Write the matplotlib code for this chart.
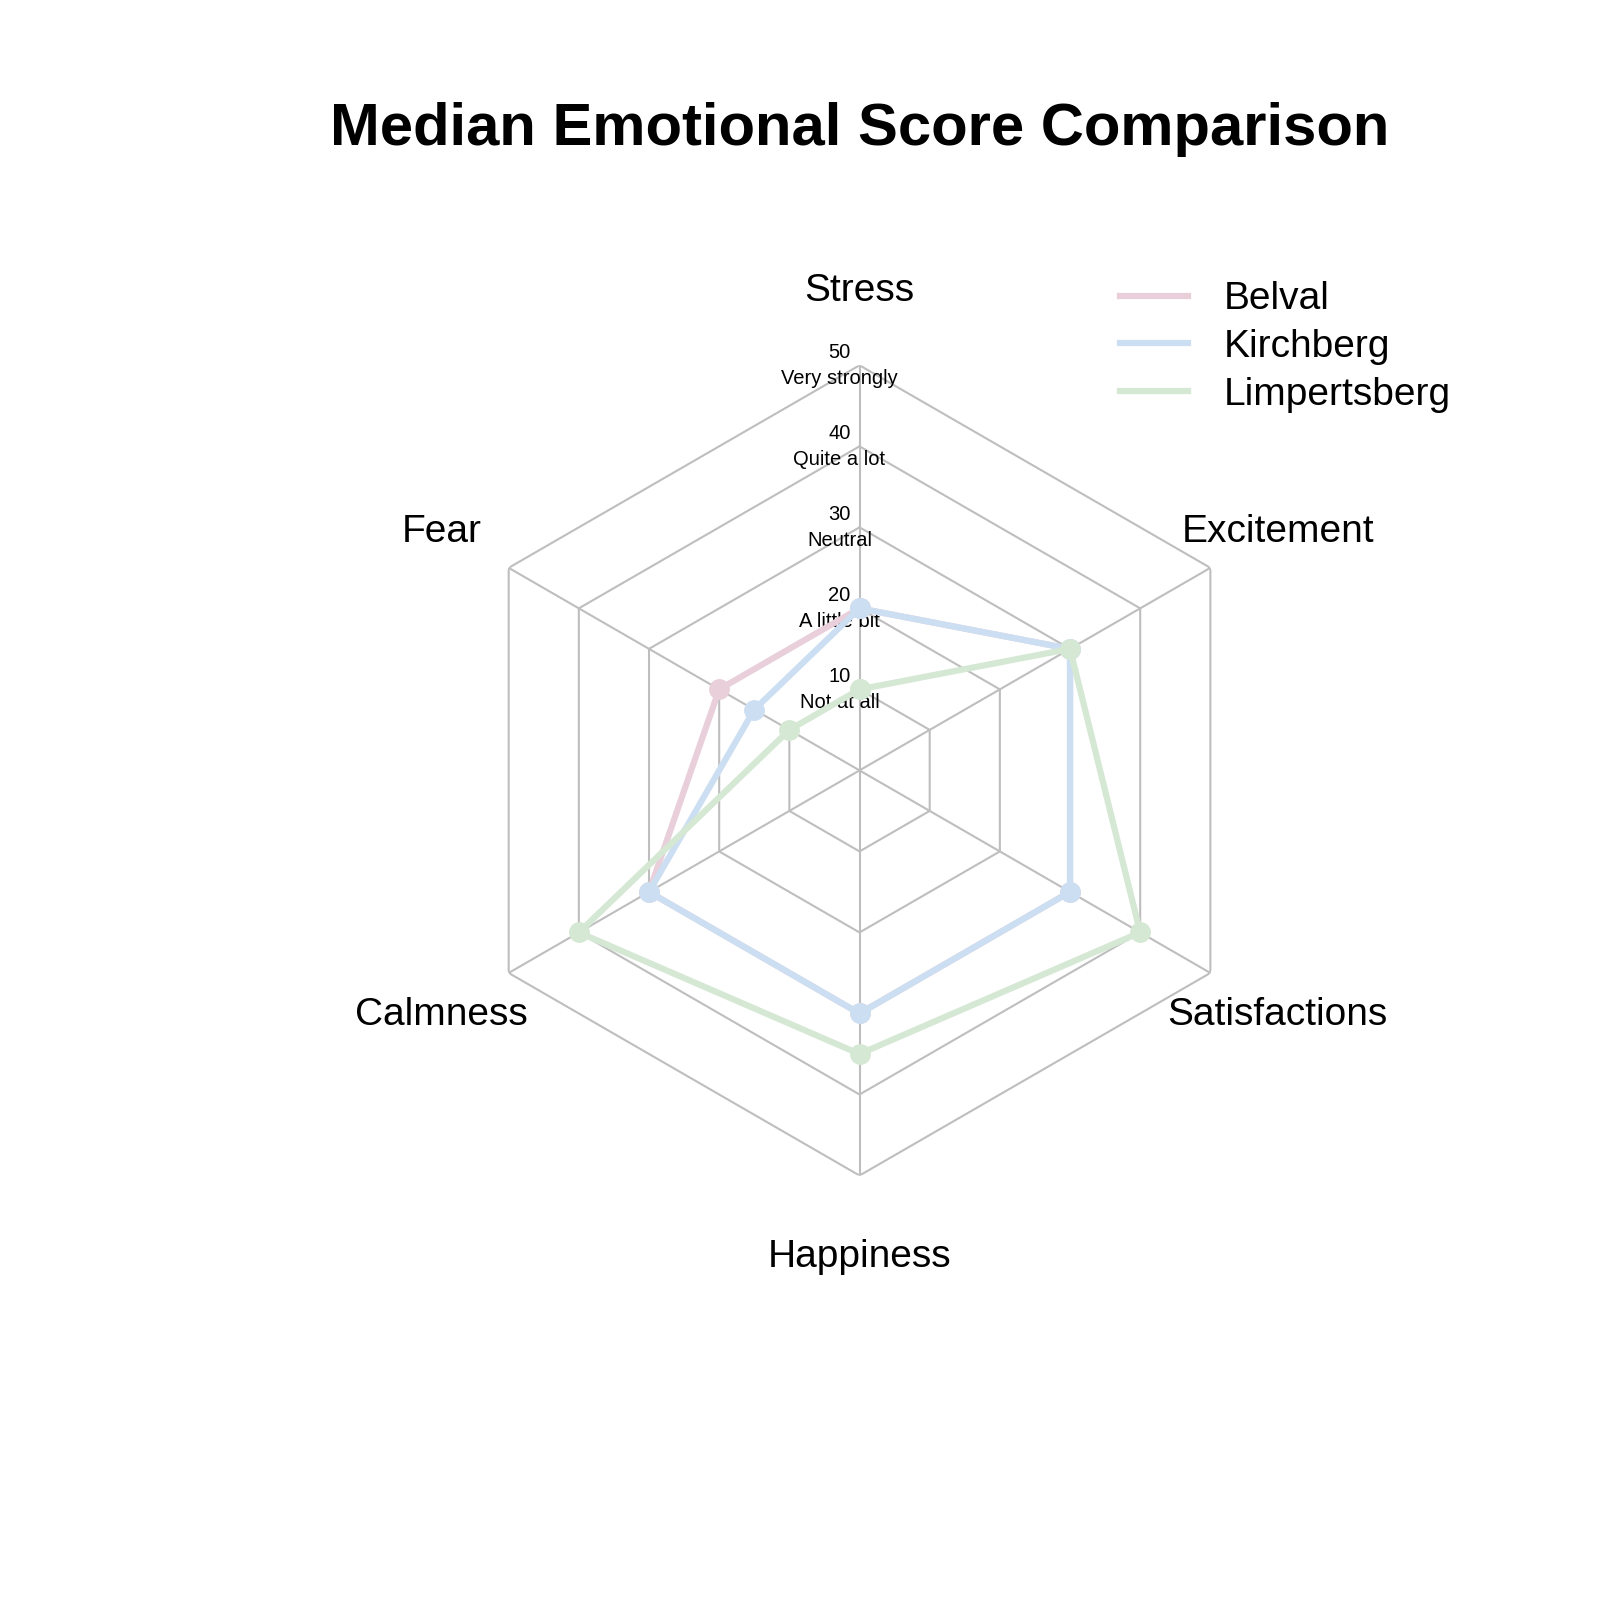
import numpy as np
import matplotlib.pyplot as plt

plt.rcParams['font.family'] = ['Liberation Sans', 'DejaVu Sans']

categories = ['Stress', 'Excitement', 'Satisfactions', 'Happiness', 'Calmness', 'Fear']
belval = [20, 30, 30, 30, 30, 20]
kirchberg = [20, 30, 30, 30, 30, 15]
limpertsberg = [10, 30, 40, 35, 40, 10]
ring_values = [10, 20, 30, 40, 50]
ring_labels = ['Not at all', 'A little bit', 'Neutral', 'Quite a lot', 'Very strongly']

series = [('Belval', belval, '#E8CFDA'),
          ('Kirchberg', kirchberg, '#CCDFF2'),
          ('Limpertsberg', limpertsberg, '#D5E8D4')]


def main():
    fig = plt.figure(figsize=(16, 16), dpi=100)
    ax = fig.add_axes([0.284, 0.2653, 0.5064, 0.5064], projection='polar')
    ax.set_theta_zero_location('N')
    ax.set_theta_direction(-1)
    ax.set_ylim(0, 50)
    ax.grid(False)
    ax.spines['polar'].set_visible(False)
    ax.set_xticks([])
    ax.set_yticks([])

    n = len(categories)
    angles = np.arange(n) * 2 * np.pi / n
    closed = np.append(angles, angles[0])

    # hexagonal grid
    for r in ring_values:
        ax.plot(closed, [r] * (n + 1), color='#BEBEBE', lw=1.5, zorder=1)
    for a in angles:
        ax.plot([a, a], [0, ring_values[-1]], color='#BEBEBE', lw=1.5, zorder=1)

    # ring labels along the Stress axis
    for r, lab in zip(ring_values, ring_labels):
        ax.annotate(f'{r}\n{lab}', xy=(0, r), xytext=(-14.5, 0),
                    textcoords='offset points', ha='center', va='center',
                    fontsize=14.5, linespacing=1.5, zorder=2)

    for name, vals, col in series:
        v = np.append(vals, vals[0])
        ax.plot(closed, v, color=col, lw=4.5, marker='o', markersize=14,
                label=name, zorder=3)

    for a, cat in zip(angles, categories):
        ax.annotate(cat, xy=(a, 59.6), xytext=(0, -2.5), textcoords='offset points',
                    ha='center', va='center', fontsize=28, annotation_clip=False)

    fig.legend(loc='upper left', bbox_to_anchor=(0.678, 0.846), frameon=False,
               fontsize=28, handlelength=1.75, handletextpad=0.93,
               labelspacing=0.30, markerscale=0)

    fig.text(0.537, 0.919, 'Median Emotional Score Comparison', ha='center',
             va='center', fontsize=43, fontweight='bold')

    fig.savefig('out.png')


if __name__ == "__main__":
    main()
